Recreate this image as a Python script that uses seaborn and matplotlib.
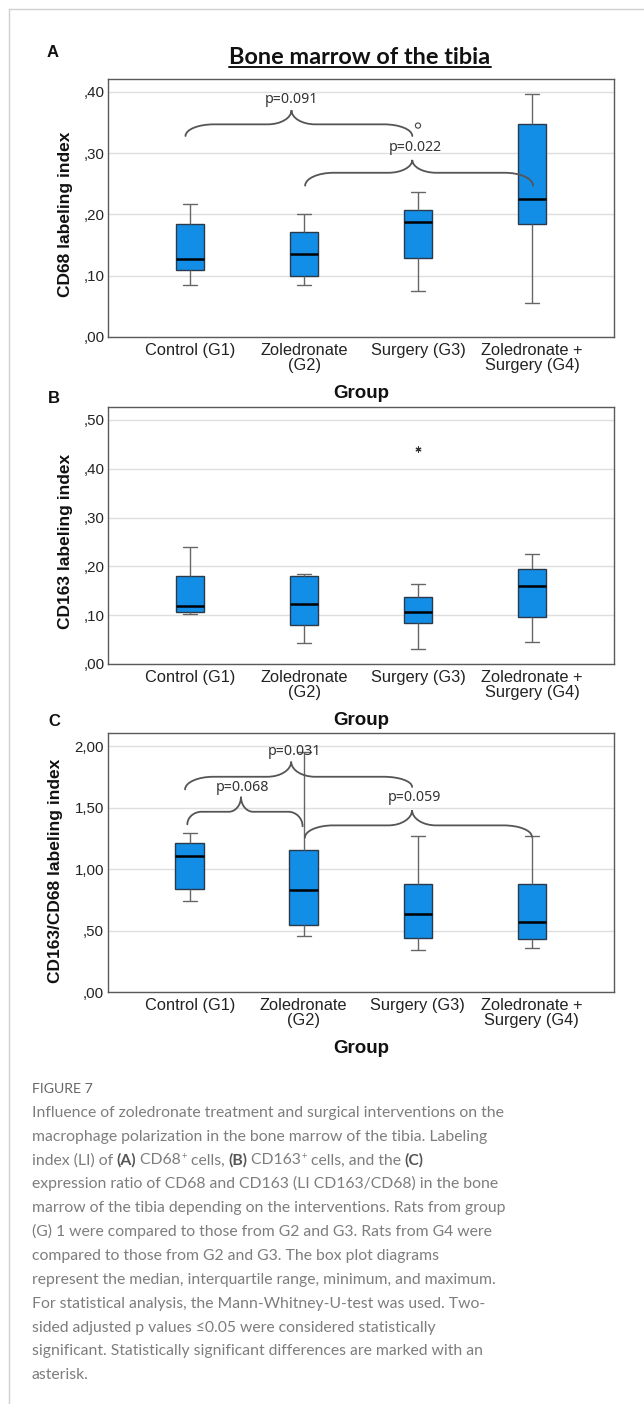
import matplotlib
matplotlib.use("Agg")
import matplotlib.pyplot as plt
import numpy as np
import pandas as pd
import seaborn as sns
from matplotlib.lines import Line2D
from matplotlib.patches import PathPatch
from matplotlib.path import Path


GROUPS = ["Control (G1)", "Zoledronate\n(G2)", "Surgery (G3)", "Zoledronate +\nSurgery (G4)"]

# five-number summaries (min, q1, median, q3, max)
CD68_MIN = [0.085, 0.085, 0.075, 0.056]
CD68_Q1 = [0.110, 0.0995, 0.129, 0.185]
CD68_MED = [0.128, 0.135, 0.187, 0.226]
CD68_Q3 = [0.184, 0.172, 0.208, 0.347]
CD68_MAX = [0.2175, 0.200, 0.237, 0.396]
CD68_OUT_GROUP = ["Surgery (G3)"]
CD68_OUT_VALUE = [0.345]

CD163_MIN = [0.1025, 0.042, 0.031, 0.046]
CD163_Q1 = [0.107, 0.080, 0.083, 0.097]
CD163_MED = [0.119, 0.122, 0.106, 0.159]
CD163_Q3 = [0.180, 0.180, 0.137, 0.195]
CD163_MAX = [0.240, 0.185, 0.163, 0.225]
CD163_EXT_GROUP = ["Surgery (G3)"]
CD163_EXT_VALUE = [0.44]

RATIO_MIN = [0.744, 0.456, 0.344, 0.356]
RATIO_Q1 = [0.836, 0.543, 0.442, 0.429]
RATIO_MED = [1.105, 0.828, 0.633, 0.567]
RATIO_Q3 = [1.216, 1.156, 0.882, 0.879]
RATIO_MAX = [1.295, 1.957, 1.270, 1.270]

# pairwise comparisons drawn as curly braces
CD68_P = ["p=0.091", "p=0.022"]
RATIO_P = ["p=0.031", "p=0.068", "p=0.059"]

CAPTION = [
    [("Influence of zoledronate treatment and surgical interventions on the", "n")],
    [("macrophage polarization in the bone marrow of the tibia. Labeling", "n")],
    [("index (LI) of ", "n"), ("(A)", "b"), (" CD68", "n"), ("+", "s"), (" cells, ", "n"),
     ("(B)", "b"), (" CD163", "n"), ("+", "s"), (" cells, and the ", "n"), ("(C)", "b")],
    [("expression ratio of CD68 and CD163 (LI CD163/CD68) in the bone", "n")],
    [("marrow of the tibia depending on the interventions. Rats from group", "n")],
    [("(G) 1 were compared to those from G2 and G3. Rats from G4 were", "n")],
    [("compared to those from G2 and G3. The box plot diagrams", "n")],
    [("represent the median, interquartile range, minimum, and maximum.", "n")],
    [("For statistical analysis, the Mann-Whitney-U-test was used. Two-", "n")],
    [("sided adjusted p values \u22640.05 were considered statistically", "n")],
    [("significant. Statistically significant differences are marked with an", "n")],
    [("asterisk.", "n")],
]

W, H = 644, 1404
BOX_FILL = "#138ee6"
BOX_EDGE = "#2a3a4c"
WHISKER = "#666666"
BRACE = "#555555"

sns.set_style("white")
plt.rcParams["font.family"] = ["Liberation Sans", "DejaVu Sans"]


def fx(px):
    return px / W


def fy(py):
    return 1 - py / H


def spss_fmt(v, _pos=None):
    s = f"{v:.2f}".replace(".", ",")
    return s[1:] if s.startswith("0") else s


def draw_brace(ax, x0, x1, xm, yl, yr, yh, ytip, label, label_x, label_y):
    span = x1 - x0
    c = 0.125 * span
    t = 0.105 * span
    k = 0.552
    verts = [
        (x0, yl), (x0, yl + k * (yh - yl)), (x0 + (1 - k) * c, yh), (x0 + c, yh),
        (xm - t, yh),
        (xm - t + k * t, yh), (xm, ytip - k * (ytip - yh)), (xm, ytip),
        (xm, ytip - k * (ytip - yh)), (xm + t - k * t, yh), (xm + t, yh),
        (x1 - c, yh),
        (x1 - (1 - k) * c, yh), (x1, yr + k * (yh - yr)), (x1, yr),
    ]
    codes = [Path.MOVETO] + [Path.CURVE4] * 3 + [Path.LINETO] + [Path.CURVE4] * 6 \
        + [Path.LINETO] + [Path.CURVE4] * 3
    ax.add_patch(PathPatch(Path(verts, codes), fill=False, edgecolor=BRACE,
                           linewidth=1.3, zorder=6, capstyle="round"))
    ax.text(label_x, label_y, label, ha="center", va="center", fontsize=10.2,
            family=["Noto Sans", "DejaVu Sans"], color="#333333", zorder=5)


def draw_panel(ax, summary, ylim, yticks, ylabel, ylabel_x, ylabel_y):
    df = pd.DataFrame({
        "group": np.repeat(GROUPS, 5),
        "value": np.column_stack(summary).ravel(),
    })
    sns.boxplot(
        data=df, x="group", y="value", order=GROUPS, color=BOX_FILL, saturation=1,
        width=0.25, whis=(0, 100), linecolor=BOX_EDGE, linewidth=1.0, showfliers=False,
        medianprops={"color": "black", "linewidth": 1.8},
        whiskerprops={"color": WHISKER, "linewidth": 1.0},
        capprops={"color": WHISKER, "linewidth": 1.0},
        ax=ax,
    )
    ax.set_xlim(-0.72, 3.72)
    ax.set_ylim(*ylim)
    ax.set_yticks(yticks)
    ax.yaxis.set_major_formatter(plt.FuncFormatter(spss_fmt))
    ax.set_xticks(range(len(GROUPS)))
    ax.set_xticklabels(GROUPS, linespacing=1.0)
    ax.tick_params(axis="both", length=0, labelsize=11.8, colors="#222222")
    ax.tick_params(axis="y", pad=2.5, labelsize=10.8)
    ax.tick_params(axis="x", pad=4)
    ax.yaxis.grid(True, color="#dfdfdf", linewidth=1.0)
    ax.xaxis.grid(False)
    ax.set_axisbelow(True)
    for sp in ax.spines.values():
        sp.set_visible(True)
        sp.set_color("#5a5a5a")
        sp.set_linewidth(1.0)
    ax.set_ylabel(ylabel, fontsize=12.5, fontweight="bold", color="#111111")
    ax.yaxis.set_label_coords(ylabel_x, ylabel_y)
    ax.yaxis.label.set_va("center")
    ax.set_xlabel("Group", fontsize=13.5, fontweight="bold", color="#111111")
    ax.xaxis.set_label_coords(0.5, -0.218)
    ax.xaxis.label.set_va("center")


fig = plt.figure(figsize=(W / 100, H / 100), dpi=100)
fig.patch.set_facecolor("white")

ax_a = fig.add_axes([fx(108), fy(337), fx(506), 258 / H])
ax_b = fig.add_axes([fx(108), fy(664), fx(506), 257.3 / H])
ax_c = fig.add_axes([fx(107.5), fy(992), fx(506.5), 258.7 / H])

draw_panel(ax_a, [CD68_MIN, CD68_Q1, CD68_MED, CD68_Q3, CD68_MAX], (0, 0.421),
           [0, 0.1, 0.2, 0.3, 0.4], "CD68 labeling index", -0.084, 0.475)
draw_panel(ax_b, [CD163_MIN, CD163_Q1, CD163_MED, CD163_Q3, CD163_MAX], (0, 0.527),
           [0, 0.1, 0.2, 0.3, 0.4, 0.5], "CD163 labeling index", -0.084, 0.476)
draw_panel(ax_c, [RATIO_MIN, RATIO_Q1, RATIO_MED, RATIO_Q3, RATIO_MAX], (0, 2.107),
           [0, 0.5, 1.0, 1.5, 2.0], "CD163/CD68 labeling index", -0.102, 0.468)

ax_a.scatter([GROUPS.index(g) for g in CD68_OUT_GROUP], CD68_OUT_VALUE, marker="o", s=14,
             facecolors="none", edgecolors="#444444", linewidths=0.8, zorder=5)
ax_b.scatter([GROUPS.index(g) for g in CD163_EXT_GROUP], CD163_EXT_VALUE, marker=(6, 2, 0),
             s=14, color="#333333", linewidths=0.8, zorder=5)

draw_brace(ax_a, -0.04, 1.95, 0.89, 0.328, 0.328, 0.347, 0.370, CD68_P[0], 0.893, 0.387)
draw_brace(ax_a, 1.01, 3.01, 1.95, 0.247, 0.247, 0.268, 0.289, CD68_P[1], 1.98, 0.309)
draw_brace(ax_c, -0.04, 1.95, 0.89, 1.650, 1.670, 1.753, 1.876, RATIO_P[0], 0.92, 1.957)
draw_brace(ax_c, -0.02, 0.99, 0.45, 1.366, 1.350, 1.468, 1.590, RATIO_P[1], 0.465, 1.667)
draw_brace(ax_c, 1.01, 3.00, 1.95, 1.257, 1.265, 1.357, 1.482, RATIO_P[2], 1.975, 1.582)

# panel letters
for letter, (px, py) in zip("ABC", [(53, 52.7), (54, 398.3), (54, 721.7)]):
    fig.text(fx(px), fy(py), letter, ha="center", va="center", fontsize=12,
             fontweight="bold", color="#111111")

renderer = fig.canvas.get_renderer()

title = fig.text(fx(360), fy(57), "Bone marrow of the tibia", ha="center", va="center",
                 fontsize=16.9, fontweight="bold", family=["Lato", "DejaVu Sans"],
                 color="#111111")
bb = title.get_window_extent(renderer)
fig.add_artist(Line2D([bb.x0 / W, bb.x1 / W], [fy(67), fy(67)], transform=fig.transFigure,
                      color="#111111", linewidth=1.4))

# page frame
fig.add_artist(Line2D([fx(9.3), 1], [fy(9.3), fy(9.3)], transform=fig.transFigure,
                      color="#d0d0d0", linewidth=1.0))
fig.add_artist(Line2D([fx(9.3), fx(9.3)], [0, fy(9.3)], transform=fig.transFigure,
                      color="#d0d0d0", linewidth=1.0))

# caption
CAP_FONT = ["Lato", "DejaVu Sans"]
CAP_SIZE = 11.3
STYLES = {
    "n": dict(fontsize=CAP_SIZE, color="#7d7d7d", family=CAP_FONT),
    "b": dict(fontsize=CAP_SIZE, color="#555555", family=CAP_FONT, fontweight="bold"),
    "s": dict(fontsize=CAP_SIZE * 0.6, color="#7d7d7d", family=CAP_FONT),
}


def seg_width(s, style):
    t1 = fig.text(0, 0, "|" + s + "|", **style)
    t2 = fig.text(0, 0, "||", **style)
    w = t1.get_window_extent(renderer).width - t2.get_window_extent(renderer).width
    t1.remove()
    t2.remove()
    return w


fig.text(fx(31.7), fy(1092.7), "FIGURE 7", ha="left", va="baseline", fontsize=10.2,
         color="#666666", family=CAP_FONT)
for i, line in enumerate(CAPTION):
    base = 1116.7 + i * 23.87
    x = 31.7
    for s, kind in line:
        style = STYLES[kind]
        rise = 5.5 if kind == "s" else 0
        fig.text(fx(x), fy(base - rise), s, ha="left", va="baseline", **style)
        x += seg_width(s, style)

fig.savefig("out.png", dpi=100, facecolor="white")
